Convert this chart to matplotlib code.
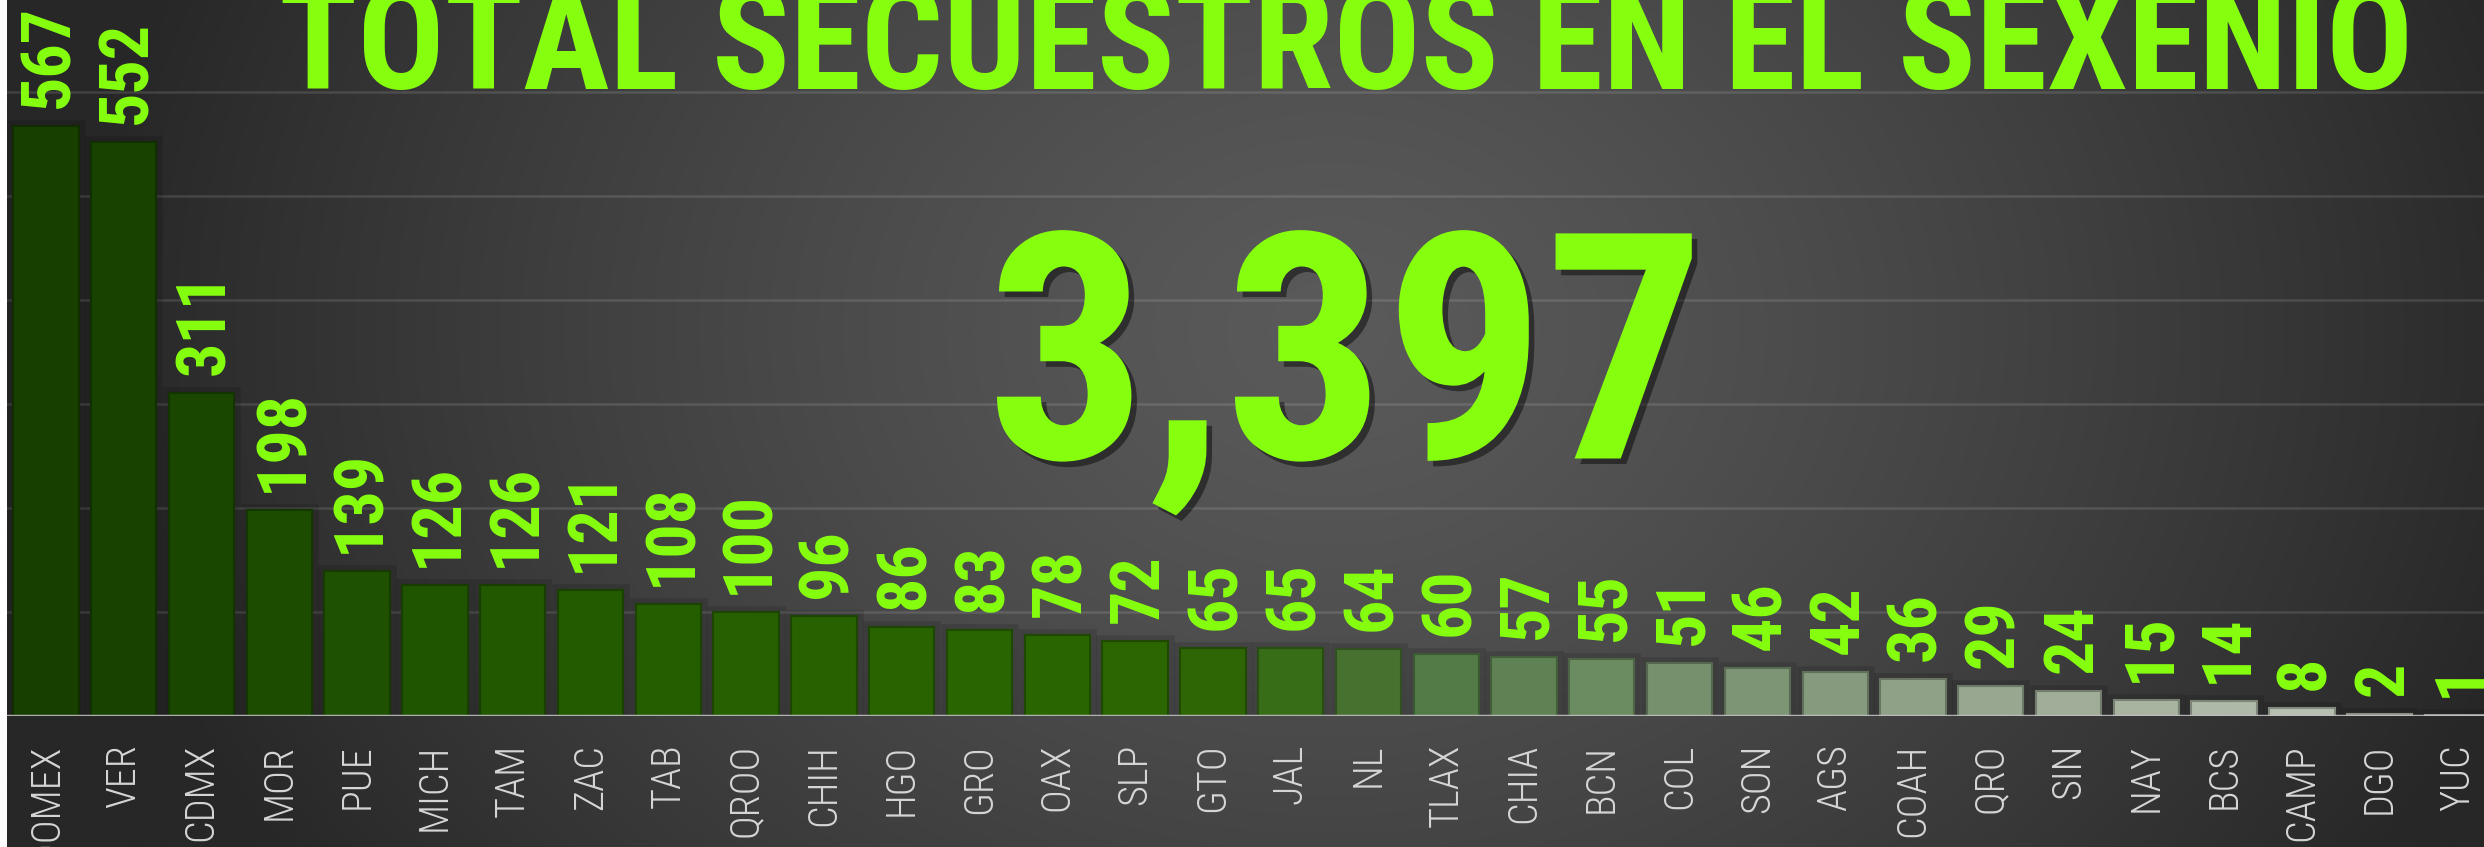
import numpy as np
import matplotlib
matplotlib.use("Agg")
import matplotlib.pyplot as plt
import matplotlib.colors as mcolors
from matplotlib import patheffects as pe
from matplotlib import font_manager as fm

# ---------------- data ----------------
states = ["EDOMEX", "VER", "CDMX", "MOR", "PUE", "MICH", "TAM", "ZAC", "TAB", "QROO",
          "CHIH", "HGO", "GRO", "OAX", "SLP", "GTO", "JAL", "NL", "TLAX", "CHIA",
          "BCN", "COL", "SON", "AGS", "COAH", "QRO", "SIN", "NAY", "BCS", "CAMP",
          "DGO", "YUC"]
kidnappings = [567, 552, 311, 198, 139, 126, 126, 121, 108, 100,
               96, 86, 83, 78, 72, 65, 65, 64, 60, 57,
               55, 51, 46, 42, 36, 29, 24, 15, 14, 8,
               2, 1]
title_text = "TOTAL SECUESTROS EN EL SEXENIO"
total_text = "3,397"

# ---------------- style ----------------
bar_colors = ["#173f00", "#184200", "#1a4700", "#1c4c00", "#1e5100", "#205500",
              "#215800", "#235b00", "#255e00", "#266000", "#276100", "#286300",
              "#296500", "#2a6600", "#2b6601", "#2e6606", "#386d18", "#46712f",
              "#527b47", "#5f8254", "#6b8b61", "#768f6c", "#7d9574", "#869b7e",
              "#8fa287", "#98a890", "#a0ad98", "#a8b3a0", "#aeb9a8", "#b6bfb0",
              "#bec5b9", "#c4cac0"]
GREEN = "#86ff0e"

available = {f.name for f in fm.fontManager.ttflist}
narrow = None
for cand in ["Liberation Sans Narrow", "Roboto Condensed", "Open Sans Condensed",
             "DejaVu Sans Condensed"]:
    if cand in available:
        narrow = cand
        break
if narrow is None:
    narrow = "DejaVu Sans"
stretch = "condensed"

W, H = 2484, 847
fig = plt.figure(figsize=(W / 100, H / 100), dpi=100)
fig.patch.set_facecolor("white")

left = 7 / W
# background gradient
bg = fig.add_axes([left, 0, 1 - left, 1], zorder=-10)
gx = np.linspace(left * W, W, 600)
gy = np.linspace(0, H, 220)
XX, YY = np.meshgrid(gx, gy)
d = np.sqrt(((XX - 1330) / 1250) ** 2 + ((YY - 330) / 1000) ** 2)
d = np.clip(d, 0, 1)
val = 0x5a - (0x5a - 0x27) * d ** 1.3
img = np.dstack([val, val, val]) / 255.0
bg.imshow(img, extent=[0, 1, 0, 1], aspect="auto", origin="upper", interpolation="bilinear")
bg.set_axis_off()

ax = fig.add_axes([left, 131 / H, 1 - left, 716 / H])
ax.set_facecolor("none")
x = np.arange(len(states))
edge = [tuple(np.array(mcolors.to_rgb(c)) * 0.72) for c in bar_colors]
bars = ax.bar(x, kidnappings, width=0.84, color=bar_colors, edgecolor=edge,
              linewidth=1.5, zorder=3)
for b in bars:
    b.set_path_effects([pe.Stroke(linewidth=9, foreground="black", alpha=0.13),
                        pe.Normal()])

ax.set_xlim(-0.5, 31.34)
ax.set_ylim(0, 688.5)
ax.set_yticks([100, 200, 300, 400, 500, 600])
ax.yaxis.grid(True, color="white", alpha=0.12, linewidth=1.8, zorder=0)
ax.set_axisbelow(True)
ax.tick_params(axis="y", left=False, labelleft=False)
ax.tick_params(axis="x", length=0, pad=20)
ax.set_xticks(x)
ax.set_xticklabels(states, rotation=90, fontsize=29, color="#d6d6d6",
                   family=narrow, fontstretch=stretch, fontweight="light")
for s in ax.spines.values():
    s.set_visible(False)
ax.axhline(0, color="#c8c8c8", linewidth=2.5, alpha=0.85, zorder=5)

for xi, v in zip(x, kidnappings):
    ax.annotate(str(v), (xi, v), xytext=(3, 13), textcoords="offset points",
                rotation=90, ha="center", va="bottom", fontsize=49,
                fontweight="bold", color=GREEN, family=narrow,
                fontstretch=stretch, zorder=6)

shadow = [pe.withSimplePatchShadow(offset=(4, -4), shadow_rgbFace="black", alpha=0.45)]
fig.text(1346 / W, 1 - 89 / H, title_text, ha="center", va="baseline",
         fontsize=104, fontweight="bold", color=GREEN, family=narrow,
         fontstretch=stretch)
fig.text(1346 / W, 1 - 372 / H, total_text, ha="center", va="center",
         fontsize=228, fontweight="bold", color=GREEN, family=narrow,
         fontstretch=stretch, path_effects=shadow)

fig.savefig("out.png", dpi=100, facecolor=fig.get_facecolor())
